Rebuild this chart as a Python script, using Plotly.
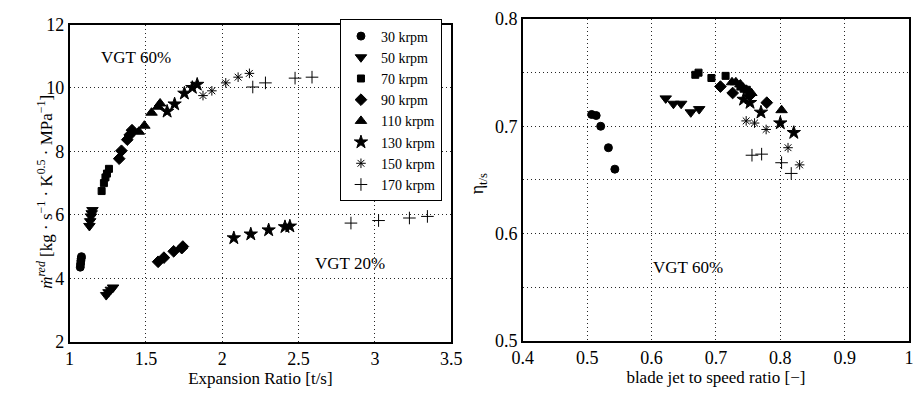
import plotly.graph_objects as go

speeds = ["30 krpm", "50 krpm", "70 krpm", "90 krpm", "110 krpm", "130 krpm", "150 krpm", "170 krpm"]
symbols = ["circle", "triangle-down", "square", "diamond", "triangle-up", "star", "asterisk-open", "cross-thin-open"]
sizes = [8, 10, 7, 9, 10, 10, 8, 9]

# Left: reduced mass flow vs expansion ratio (two VGT positions)
er_60 = {
    "30 krpm": [1.070, 1.072, 1.074, 1.076, 1.078],
    "50 krpm": [1.130, 1.135, 1.140, 1.145, 1.150],
    "70 krpm": [1.210, 1.225, 1.235, 1.245, 1.258],
    "90 krpm": [1.325, 1.340, 1.378, 1.394, 1.409],
    "110 krpm": [1.454, 1.490, 1.537, 1.580, 1.593],
    "130 krpm": [1.639, 1.688, 1.752, 1.804, 1.836],
    "150 krpm": [1.874, 1.932, 2.023, 2.104, 2.178],
    "170 krpm": [2.200, 2.283, 2.477, 2.588],
}
mr_60 = {
    "30 krpm": [4.35, 4.45, 4.55, 4.62, 4.68],
    "50 krpm": [5.65, 5.80, 5.95, 6.05, 6.15],
    "70 krpm": [6.75, 7.00, 7.18, 7.30, 7.45],
    "90 krpm": [7.77, 8.02, 8.37, 8.52, 8.67],
    "110 krpm": [8.62, 8.81, 9.22, 9.41, 9.51],
    "130 krpm": [9.26, 9.49, 9.83, 10.01, 10.11],
    "150 krpm": [9.76, 9.91, 10.16, 10.34, 10.46],
    "170 krpm": [10.03, 10.16, 10.31, 10.34],
}
er_20 = {
    "50 krpm": [1.240, 1.255, 1.270, 1.285],
    "90 krpm": [1.580, 1.618, 1.682, 1.735, 1.742],
    "130 krpm": [2.076, 2.187, 2.304, 2.411, 2.443],
    "170 krpm": [2.843, 3.024, 3.226, 3.344],
}
mr_20 = {
    "50 krpm": [3.47, 3.56, 3.64, 3.71],
    "90 krpm": [4.52, 4.65, 4.85, 4.95, 5.00],
    "130 krpm": [5.27, 5.39, 5.52, 5.62, 5.64],
    "170 krpm": [5.74, 5.82, 5.90, 5.95],
}

# Right: efficiency vs blade jet to speed ratio (VGT 60%)
bsr = {
    "30 krpm": [0.507, 0.514, 0.521, 0.533, 0.543],
    "50 krpm": [0.622, 0.634, 0.646, 0.661, 0.674],
    "70 krpm": [0.668, 0.673, 0.693, 0.715, 0.738, 0.743, 0.748],
    "90 krpm": [0.707, 0.726, 0.753, 0.779],
    "110 krpm": [0.725, 0.731, 0.738, 0.755, 0.802],
    "130 krpm": [0.743, 0.753, 0.770, 0.800, 0.821],
    "150 krpm": [0.747, 0.760, 0.778, 0.812, 0.830],
    "170 krpm": [0.756, 0.771, 0.802, 0.817],
}
eta = {
    "30 krpm": [0.711, 0.710, 0.700, 0.680, 0.660],
    "50 krpm": [0.726, 0.721, 0.721, 0.713, 0.716],
    "70 krpm": [0.748, 0.750, 0.745, 0.747, 0.737, 0.735, 0.734],
    "90 krpm": [0.737, 0.731, 0.729, 0.722],
    "110 krpm": [0.741, 0.741, 0.739, 0.731, 0.715],
    "130 krpm": [0.725, 0.722, 0.713, 0.703, 0.694],
    "150 krpm": [0.705, 0.703, 0.697, 0.680, 0.664],
    "170 krpm": [0.673, 0.674, 0.666, 0.656],
}

FONT = "Liberation Serif"
fig = go.Figure()

for i, s in enumerate(speeds):
    mk = dict(symbol=symbols[i], size=sizes[i], color="black",
              line=dict(color="black", width=1))
    xs = er_60[s] + er_20.get(s, [])
    ys = mr_60[s] + mr_20.get(s, [])
    fig.add_trace(go.Scatter(x=xs, y=ys, mode="markers", name=s, marker=mk,
                             xaxis="x", yaxis="y", showlegend=True))
    fig.add_trace(go.Scatter(x=bsr[s], y=eta[s], mode="markers", name=s, marker=mk,
                             xaxis="x2", yaxis="y2", showlegend=False))

W, H = 922, 397
def px(x):
    return x / W
def py(y):
    return (H - y) / H

GRIDCOL = "rgba(0,0,0,0.85)"
axis_common = dict(showline=True, linecolor="black", linewidth=1.5, mirror=True,
                   showgrid=True, gridcolor=GRIDCOL, gridwidth=1, griddash="1px,3px",
                   zeroline=False, ticks="", tickfont=dict(family=FONT, size=18, color="black"))

fig.update_layout(
    width=W, height=H,
    margin=dict(l=0, r=0, t=0, b=0),
    paper_bgcolor="white", plot_bgcolor="white",
    font=dict(family=FONT, color="black"),
    xaxis=dict(domain=[px(60), px(451)], range=[1, 3.5], tick0=1, dtick=0.5,
               title=dict(text="Expansion Ratio [t/s]", font=dict(family=FONT, size=17), standoff=2),
               anchor="y", **axis_common),
    yaxis=dict(domain=[py(349.3), py(15.3)], range=[2, 12], tick0=2, dtick=2,
               anchor="x", **axis_common),
    xaxis2=dict(domain=[px(524.3), px(920)], range=[0.4, 1.0], tick0=0.4, dtick=0.1,
                title=dict(text="blade jet to speed ratio [\u2212]", font=dict(family=FONT, size=17), standoff=2),
                anchor="y2", **axis_common),
    yaxis2=dict(domain=[py(348.3), py(9.5)], range=[0.5, 0.8], tick0=0.5, dtick=0.1,
                minor=dict(tick0=0.5, dtick=0.05, showgrid=True, gridcolor=GRIDCOL,
                           gridwidth=1, griddash="1px,3px", ticks=""),
                anchor="x2", **axis_common),
    legend=dict(x=px(337), y=py(10), xanchor="left", yanchor="top",
                bgcolor="white", bordercolor="black", borderwidth=1,
                font=dict(family=FONT, size=14, color="black"),
                itemwidth=30, tracegroupgap=0),
    annotations=[
        dict(text="VGT 60%", x=1.435, y=10.96, xref="x", yref="y", showarrow=False,
             font=dict(family=FONT, size=17, color="black")),
        dict(text="VGT 20%", x=2.835, y=4.47, xref="x", yref="y", showarrow=False,
             font=dict(family=FONT, size=17, color="black")),
        dict(text="VGT 60%", x=0.656, y=0.5686, xref="x2", yref="y2", showarrow=False,
             font=dict(family=FONT, size=17, color="black")),
        dict(text="<i>\u1e41</i><sup><i>red</i></sup> [kg \u00b7 s<sup>\u22121</sup> \u00b7 K<sup>0.5</sup> \u00b7 MPa<sup>\u22121</sup>]",
             x=px(22), y=py(191), xref="paper", yref="paper", showarrow=False, textangle=-90,
             font=dict(family=FONT, size=17, color="black")),
        dict(text="\u03b7<sub>t/s</sub>", x=px(479), y=py(183), xref="paper", yref="paper",
             showarrow=False, textangle=-90, font=dict(family=FONT, size=18, color="black")),
    ],
)

fig.write_html("out.html")
